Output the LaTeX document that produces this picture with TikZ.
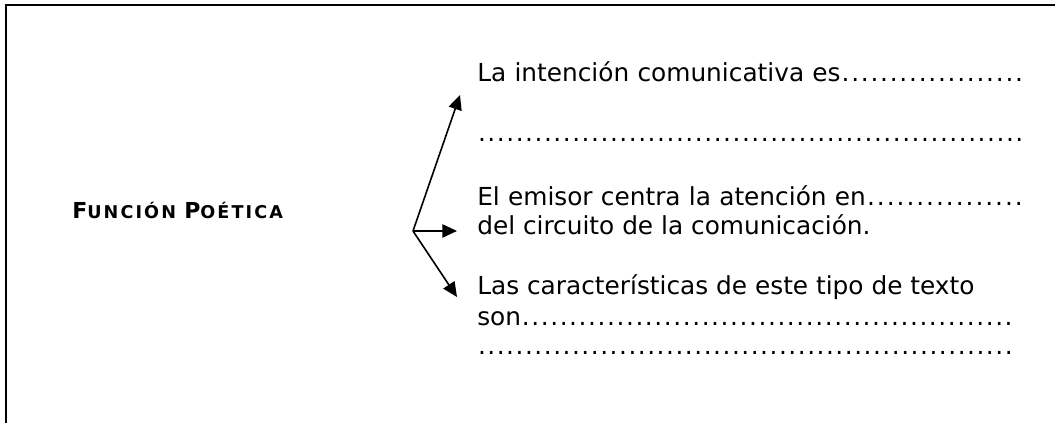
\documentclass[tikz,border=0pt]{standalone}
\usepackage{fontspec}
\setmainfont{DejaVu Sans}
\newfontfamily\titulofont[LetterSpace=12]{DejaVu Sans}
\usetikzlibrary{arrows.meta}

% puntos suspensivos de relleno
\newcommand{\puntos}{\xleaders\hbox to 7.05pt{\hss.\hss}\hskip 0pt plus 1fill\null}

\tikzset{
  renglon/.style={anchor=base west, inner sep=0pt, align=left,
    font=\fontsize{18.6}{22}\selectfont},
  flecha/.style={-{Triangle[length=11pt,width=10pt]}, line width=1.2pt},
}

\begin{document}
\begin{tikzpicture}[x=0.75pt,y=0.75pt]
	\useasboundingbox (0,0) rectangle (1057,423);
	% Marco
	\draw[line width=1.6pt] (6,0) -- (6,418) -- (1055,418);
	% Titulo
	\node[anchor=base west, inner sep=0pt] (titulo) at (72,204)
	{\titulofont\bfseries\fontsize{16.5}{18}\selectfont F\fontsize{13.2}{15}\selectfont UNCIÓN
	\fontsize{16.5}{18}\selectfont P\fontsize{13.2}{15}\selectfont OÉTICA};
	% Renglones
	\node[renglon, text width=410pt] (intencion) at (477,341) {La intención comunicativa es\puntos};
	\node[renglon, text width=410pt] (linea) at (477,281) {\puntos};
	\node[renglon, text width=410pt] (emisor) at (477,217) {El emisor centra la atención en\puntos};
	\node[renglon] (circuito) at (477,188) {del circuito de la comunicación.};
	\node[renglon] (rasgos) at (477,128) {Las características de este tipo de texto};
	\node[renglon, text width=402pt] (son) at (477,97) {son\puntos};
	\node[renglon, text width=402pt] (final) at (477,68) {\puntos};
	% Flechas
	\coordinate (raiz) at (413,192);
	\coordinate (p1) at (460,328);
	\coordinate (p2) at (457,192);
	\coordinate (p3) at (457,126);
	\draw[flecha] (raiz) -- (p1);
	\draw[flecha] (raiz) -- (p2);
	\draw[flecha] (raiz) -- (p3);
\end{tikzpicture}
\end{document}
